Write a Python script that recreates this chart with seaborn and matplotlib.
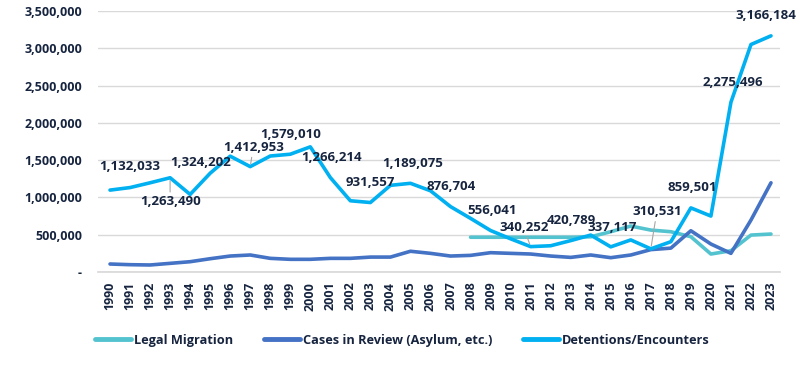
import pandas as pd
import matplotlib
matplotlib.use("Agg")
import matplotlib.pyplot as plt
import matplotlib.ticker as mticker
import seaborn as sns

# data
years = list(range(1990, 2024))
detentions = [1098000, 1132033, 1196000, 1263490, 1040000, 1324202, 1553000, 1412953,
              1555000, 1579010, 1678000, 1266214, 955000, 931557, 1162000, 1189075,
              1089000, 876704, 719000, 556041, 445000, 340252, 352000, 420789,
              495000, 337117, 430000, 310531, 406000, 859501, 750000, 2275496,
              3050000, 3166184]
cases = [107000, 98000, 94000, 116000, 138000, 178000, 214000, 228000, 183000, 170000,
         170000, 183000, 183000, 200000, 200000, 278000, 250000, 214000, 223000, 259000,
         250000, 241000, 214000, 196000, 228000, 192000, 228000, 300000, 320000, 553000,
         375000, 250000, 696000, 1196000]
legal_years = list(range(2008, 2024))
legal = [466000, 466000, 466000, 466000, 466000, 466000, 472000, 540000, 616000,
         562000, 540000, 473000, 241000, 285000, 495000, 509000]

series_names = ["Legal Migration", "Cases in Review (Asylum, etc.)", "Detentions/Encounters"]
colors = ["#53C3CF", "#4472C4", "#00B0F0"]

# labelled points (odd years on detentions line)
label_years = list(range(1991, 2024, 2))
# label offsets in pixels, and which ones get a leader line
label_offsets = [(0, 21), (0, -24), (-10, 11), (3, 19), (0, 20), (1, 20), (0, 20), (2, 20),
                 (1, 20), (1, 20), (-7, 19), (1, 20), (1, 19), (6, 37), (1, 20), (2, 20), (-5, 20)]
leader = [1993, 1997, 2011, 2017]

df = pd.concat([
    pd.DataFrame({"year": legal_years, "value": legal, "series": series_names[0]}),
    pd.DataFrame({"year": years, "value": cases, "series": series_names[1]}),
    pd.DataFrame({"year": years, "value": detentions, "series": series_names[2]}),
])

sns.set_theme(style="white")
plt.rcParams["font.family"] = ["Open Sans", "DejaVu Sans"]
plt.rcParams["font.weight"] = "bold"
navy = "#16243F"

fig = plt.figure(figsize=(8, 3.65), dpi=100)
ax = fig.add_axes([0.1225, 0.2548, 0.8525, 0.7152])

sns.lineplot(data=df, x="year", y="value", hue="series", hue_order=series_names,
             palette=colors, linewidth=2.6, ax=ax)

ax.set_ylim(0, 3500000)
ax.set_xlim(1989.4, 2023.45)
ax.yaxis.set_major_locator(mticker.MultipleLocator(500000))
ax.yaxis.set_major_formatter(mticker.FuncFormatter(lambda v, p: "-" if v == 0 else f"{v:,.0f}"))
ax.set_xticks(years)
ax.set_xticklabels([str(y) for y in years], rotation=90)
ax.tick_params(axis="y", length=0, pad=11.5, labelsize=9, labelcolor=navy)
ax.tick_params(axis="x", length=0, pad=7, labelsize=9, labelcolor=navy)
for t in ax.get_xticklabels() + ax.get_yticklabels():
    t.set_fontweight("bold")
ax.grid(axis="y", color="#D9D9D9", linewidth=1)
ax.set_axisbelow(True)
for s in ["top", "left", "right"]:
    ax.spines[s].set_visible(False)
ax.spines["bottom"].set_color("#D9D9D9")
ax.set_xlabel("")
ax.set_ylabel("")

# data labels
for yr, (dx, dy) in zip(label_years, label_offsets):
    v = detentions[years.index(yr)]
    kw = {}
    if yr in leader:
        kw["arrowprops"] = dict(arrowstyle="-", color="#A6A6A6", lw=0.8, shrinkA=0, shrinkB=2)
    ax.annotate(f"{v:,}", xy=(yr, v), xytext=(dx, dy), textcoords="offset pixels",
                ha="center", va="center", fontsize=9.5, fontweight="bold", color=navy, **kw)

sns.move_legend(ax, "center", bbox_to_anchor=(0.503, 0.068), bbox_transform=fig.transFigure,
                ncol=3, title=None, frameon=False, fontsize=9.2, handlelength=2.8,
                handletextpad=0.25, columnspacing=2.4)
for t in ax.get_legend().get_texts():
    t.set_color(navy)
    t.set_fontweight("bold")
for h in ax.get_legend().legend_handles:
    h.set_linewidth(3.5)

fig.savefig("out.png", dpi=100)
